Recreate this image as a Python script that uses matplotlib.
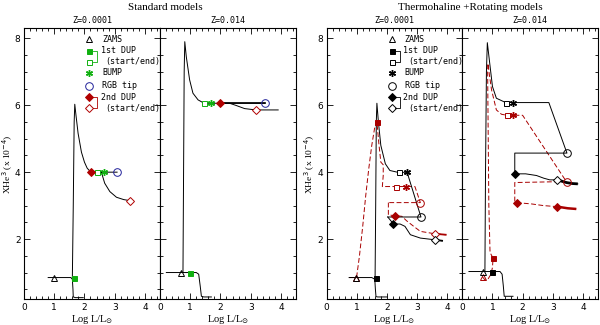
import matplotlib
matplotlib.use('Agg')
import matplotlib.pyplot as plt
from matplotlib.ticker import MultipleLocator

# ---------------- data ----------------
# Standard models, Z=0.0001
s1_pms_x = [0.8, 1.0, 1.55, 1.6, 1.62, 1.63, 1.7, 1.96]
s1_pms_y = [0.85, 0.85, 0.85, 0.8, 0.5, 0.27, 0.25, 0.25]
s1_rgb_x = [1.6, 1.63, 1.66, 1.68, 1.72, 1.79, 1.9, 2.0, 2.09, 2.18, 2.4, 2.64, 3.08]
s1_rgb_y = [0.85, 3.0, 5.5, 6.03, 5.7, 5.16, 4.6, 4.3, 4.12, 4.03, 4.0, 4.0, 4.0]
s1_agb_x = [2.21, 2.4, 2.56, 2.67, 2.84, 3.06, 3.3, 3.5]
s1_agb_y = [4.0, 4.0, 4.0, 3.67, 3.42, 3.25, 3.18, 3.15]
s1_zams = (1.0, 0.85)
s1_dup1 = [(1.65, 0.84), (2.4, 4.0)]
s1_bump = (2.64, 4.0)
s1_tip = (3.08, 4.0)
s1_dup2 = [(2.21, 4.0), (3.5, 3.15)]

# Standard models, Z=0.014
s2_pms_x = [0.21, 0.68, 1.0, 1.2, 1.28, 1.33, 1.37, 1.45, 1.7]
s2_pms_y = [1.0, 1.0, 1.0, 1.0, 0.95, 0.6, 0.29, 0.27, 0.27]
s2_rgb_x = [0.76, 0.78, 0.8, 0.82, 0.87, 0.98, 1.09, 1.26, 1.46, 1.7, 2.0, 3.47]
s2_rgb_y = [1.0, 4.0, 7.0, 7.9, 7.45, 6.76, 6.36, 6.16, 6.06, 6.06, 6.06, 6.06]
s2_agb_x = [2.0, 2.3, 2.5, 2.8, 3.17, 3.5, 3.91]
s2_agb_y = [6.06, 6.06, 6.0, 5.9, 5.86, 5.86, 5.86]
s2_zams = (0.68, 1.0)
s2_dup1 = [(1.0, 1.0), (1.46, 6.06)]
s2_bump = (1.7, 6.06)
s2_tip = (3.47, 6.06)
s2_dup2 = [(2.0, 6.06), (3.17, 5.86)]

# Thermohaline + rotating, Z=0.0001 : black and red (dashed) tracks
r1k_pms_x = [0.75, 0.97, 1.5, 1.6, 1.62, 1.64, 1.7, 2.02]
r1k_pms_y = [0.85, 0.85, 0.85, 0.8, 0.5, 0.28, 0.27, 0.27]
r1k_rgb_x = [1.61, 1.63, 1.65, 1.67, 1.72, 1.8, 1.95, 2.1, 2.39, 2.67, 3.13, 2.03]
r1k_rgb_y = [0.85, 3.0, 5.5, 6.06, 5.5, 4.8, 4.25, 4.05, 3.99, 4.0, 2.66, 2.66]
r1k_agb_x = [2.03, 2.22, 2.44, 2.6, 2.78, 3.11, 3.58, 3.83]
r1k_agb_y = [2.66, 2.45, 2.45, 2.38, 2.13, 2.03, 1.98, 1.95]
r1k_zams = (0.97, 0.85)
r1k_dup1 = [(1.64, 0.84), (2.39, 3.99)]
r1k_bump = (2.67, 4.0)
r1k_tip = (3.13, 2.66)
r1k_dup2 = [(2.22, 2.45), (3.58, 1.98)]

r1r_x = [0.75, 0.97, 1.0, 1.09, 1.2, 1.3, 1.4, 1.5, 1.6, 1.67, 1.73, 1.8, 1.88, 1.88,
         1.85, 2.31, 2.63, 2.93, 3.11, 2.05]
r1r_y = [0.85, 0.85, 0.88, 1.48, 2.38, 3.3, 4.1, 4.8, 5.35, 5.51, 4.9, 4.3, 4.22, 3.9,
         3.57, 3.57, 3.57, 3.57, 3.09, 3.09]
r1r_agb_x = [2.05, 2.05, 2.28, 2.5, 2.65, 2.89, 3.11, 3.58, 3.95]
r1r_agb_y = [3.09, 2.72, 2.70, 2.68, 2.55, 2.38, 2.23, 2.16, 2.13]
r1r_zams = (0.97, 0.84)
r1r_dup1 = [(1.67, 5.51), (2.31, 3.57)]
r1r_bump = (2.63, 3.57)
r1r_tip = (3.11, 3.09)
r1r_dup2 = [(2.28, 2.70), (3.58, 2.16)]

# Thermohaline + rotating, Z=0.014
r2k_pms_x = [0.22, 0.69, 1.0, 1.25, 1.32, 1.36, 1.39, 1.5, 1.68]
r2k_pms_y = [1.03, 1.03, 1.03, 1.03, 0.95, 0.6, 0.29, 0.29, 0.29]
r2k_rgb_x = [0.75, 0.77, 0.8, 0.83, 0.91, 1.0, 1.13, 1.44, 1.68, 2.87, 3.47, 1.74, 1.74]
r2k_rgb_y = [1.03, 4.0, 7.0, 7.87, 7.25, 6.56, 6.21, 6.08, 6.08, 6.08, 4.57, 4.57, 3.95]
r2k_agb_x = [1.74, 2.1, 2.46, 2.7, 2.9, 3.15, 3.45, 3.65, 3.83]
r2k_agb_y = [3.95, 3.95, 3.9, 3.82, 3.77, 3.77, 3.69, 3.66, 3.65]
r2k_zams = (0.69, 1.03)
r2k_dup1 = [(1.0, 1.03), (1.44, 6.08)]
r2k_bump = (1.68, 6.08)
r2k_tip = (3.47, 4.57)
r2k_dup2 = [(1.74, 3.95), (3.15, 3.77)]

r2r_x = [0.67, 0.75, 0.85, 0.95, 1.0, 1.02, 0.92, 0.88, 0.86, 0.84, 0.85, 0.9, 0.97,
         1.13, 1.3, 1.49, 1.68, 2.0, 3.45, 1.74, 1.74]
r2r_y = [0.87, 0.78, 0.8, 0.95, 1.15, 1.43, 1.6, 3.0, 5.0, 7.0, 7.25, 6.9, 6.46,
         5.86, 5.73, 5.7, 5.7, 5.7, 3.72, 3.69, 3.09]
r2r_agb_x = [1.8, 2.3, 2.7, 3.14, 3.5, 3.78]
r2r_agb_y = [3.09, 3.05, 3.0, 2.97, 2.92, 2.9]
r2r_zams = (0.67, 0.87)
r2r_dup1 = [(1.02, 1.43), (1.49, 5.7)]
r2r_bump = (1.68, 5.7)
r2r_tip = (3.48, 3.70)
r2r_dup2 = [(1.8, 3.09), (3.14, 2.97)]

legend_labels = ["ZAMS", "1st DUP", "(start/end)", "BUMP", "RGB tip", "2nd DUP", "(start/end)"]
x_ticks = [0, 1, 2, 3, 4]
y_ticks = [2, 4, 6, 8]

# ---------------- style ----------------
GREEN = '#10b010'
BLUE = '#22229a'
RED = '#a80000'
DARKRED = '#b00000'
K = 'black'
MONO = 'DejaVu Sans Mono'
SERIF = 'Liberation Serif'
LW = 0.7
DASH = (0, (5, 2.5))

fig = plt.figure(figsize=(6, 3.25), dpi=100)
H = 271 / 325
B = 25.7 / 325
ax1 = fig.add_axes([24 / 600, B, 136 / 600, H])
ax2 = fig.add_axes([160 / 600, B, 136 / 600, H])
ax3 = fig.add_axes([326.5 / 600, B, 135.8 / 600, H])
ax4 = fig.add_axes([462.3 / 600, B, 135.7 / 600, H])


def style(ax, ylab):
    ax.set_xlim(0, 4.5)
    ax.set_ylim(0.2, 8.3)
    ax.set_xticks(x_ticks)
    ax.set_yticks(y_ticks)
    ax.xaxis.set_minor_locator(MultipleLocator(0.2))
    ax.yaxis.set_minor_locator(MultipleLocator(0.5))
    ax.tick_params(which='both', direction='in', top=True, right=True,
                   labelsize=6.5, width=0.6, pad=2.5)
    ax.tick_params(which='major', length=4)
    ax.tick_params(which='minor', length=2)
    for s in ax.spines.values():
        s.set_linewidth(0.8)
    ax.set_xlabel(r'Log L/L$_{\odot}$', fontsize=7.5, family=SERIF, labelpad=1)
    if ylab:
        ax.set_ylabel(r'XHe$^3$ (x 10$^{-4}$)', fontsize=6.8, family=SERIF)
        ax.yaxis.set_label_coords(-0.068, 0.5)
    else:
        ax.set_yticklabels([])


def marks(ax, zams, dup1, bump, tip, dup2, ckz, c1, cb, ct, c2):
    ax.plot(*zams, marker='^', ms=4.5, mfc='none', mec=ckz, mew=0.7, zorder=5)
    ax.plot(*dup1[0], marker='s', ms=3.6, mfc=c1, mec=c1, mew=0.7, zorder=5)
    ax.plot(*dup1[1], marker='s', ms=3.6, mfc='white', mec=c1, mew=0.7, zorder=5)
    ax.plot(*bump, marker=(6, 2, 0), ms=5, mec=cb, mew=1.0, zorder=5)
    ax.plot(*bump, marker='o', ms=2.5, mfc=cb, mec=cb, mew=0, zorder=5)
    ax.plot(*tip, marker='o', ms=5.5, mfc='none', mec=ct, mew=0.7, zorder=5)
    ax.plot(*dup2[0], marker='D', ms=3.8, mfc=c2, mec=c2, mew=0.7, zorder=5)


def legend(ax, ckz, c1, cb, ct, c2):
    tr = ax.transAxes
    mx, tx = 0.48, 0.575
    rows = [0.959, 0.917, 0.877, 0.836, 0.788, 0.746, 0.705]
    kw = dict(transform=tr, clip_on=False, zorder=6)
    ax.plot(mx, rows[0], marker='^', ms=4.5, mfc='none', mec=ckz, mew=0.7, **kw)
    ax.plot(mx, rows[1], marker='s', ms=3.6, mfc=c1, mec=c1, mew=0.7, **kw)
    ax.plot(mx, rows[2], marker='s', ms=3.6, mfc='none', mec=c1, mew=0.7, **kw)
    ax.plot(mx, rows[3], marker=(6, 2, 0), ms=5, mec=cb, mew=1.0, **kw)
    ax.plot(mx, rows[3], marker='o', ms=2.5, mfc=cb, mec=cb, mew=0, **kw)
    ax.plot(mx, rows[4], marker='o', ms=5.5, mfc='none', mec=ct, mew=0.7, **kw)
    ax.plot(mx, rows[5], marker='D', ms=3.8, mfc=c2, mec=c2, mew=0.7, **kw)
    ax.plot(mx, rows[6], marker='D', ms=3.8, mfc='none', mec=c2, mew=0.7, **kw)
    for (r0, r1, c) in [(rows[1], rows[2], c1), (rows[5], rows[6], c2)]:
        ax.plot([mx + 0.028, mx + 0.058, mx + 0.058, mx + 0.028], [r0, r0, r1, r1],
                color=c, lw=0.6, transform=tr, clip_on=False)
    tk = dict(transform=tr, fontsize=6, family=MONO, va='center', ha='left')
    ax.text(tx, rows[0], legend_labels[0], **tk)
    ax.text(tx - 0.01, rows[1], legend_labels[1], **tk)
    ax.text(tx + 0.025, rows[2], legend_labels[2], **tk)
    ax.text(tx, rows[3], legend_labels[3], **tk)
    ax.text(tx, rows[4], legend_labels[4], **tk)
    ax.text(tx - 0.01, rows[5], legend_labels[5], **tk)
    ax.text(tx + 0.025, rows[6], legend_labels[6], **tk)


def dup2_end(ax, p, c, filled=False):
    ax.plot(*p, marker='D', ms=3.8, mfc=c if filled else 'white', mec=c, mew=0.7, zorder=5)


# Panel 1
ax = ax1
ax.plot(s1_pms_x, s1_pms_y, color=K, lw=LW)
ax.plot(s1_rgb_x, s1_rgb_y, color=K, lw=LW)
ax.plot(s1_agb_x, s1_agb_y, color=K, lw=LW)
ax.plot(s1_agb_x[:3], s1_agb_y[:3], color=K, lw=1.6)
marks(ax, s1_zams, s1_dup1, s1_bump, s1_tip, s1_dup2, K, GREEN, GREEN, BLUE, DARKRED)
dup2_end(ax, s1_dup2[1], DARKRED)
legend(ax, K, GREEN, GREEN, BLUE, DARKRED)
ax.set_title('Z=0.0001', fontsize=6, family=MONO, pad=4)
style(ax, True)

# Panel 2
ax = ax2
ax.plot(s2_pms_x, s2_pms_y, color=K, lw=LW)
ax.plot(s2_rgb_x, s2_rgb_y, color=K, lw=LW)
ax.plot(s2_agb_x, s2_agb_y, color=K, lw=LW)
ax.plot(s2_rgb_x[-2:], s2_rgb_y[-2:], color=K, lw=1.2)
marks(ax, s2_zams, s2_dup1, s2_bump, s2_tip, s2_dup2, K, GREEN, GREEN, BLUE, DARKRED)
dup2_end(ax, s2_dup2[1], DARKRED)
ax.set_title('Z=0.014', fontsize=6, family=MONO, pad=4)
style(ax, False)

# Panel 3
ax = ax3
ax.plot(r1r_x, r1r_y, color=RED, lw=LW, ls=DASH)
ax.plot(r1r_agb_x, r1r_agb_y, color=RED, lw=LW, ls=DASH)
ax.plot(r1r_agb_x[-2:], r1r_agb_y[-2:], color=RED, lw=1.3)
ax.plot(r1k_pms_x, r1k_pms_y, color=K, lw=LW)
ax.plot(r1k_rgb_x, r1k_rgb_y, color=K, lw=LW)
ax.plot(r1k_agb_x, r1k_agb_y, color=K, lw=LW)
ax.plot(r1k_agb_x[-2:], r1k_agb_y[-2:], color=K, lw=1.3)
marks(ax, r1r_zams, r1r_dup1, r1r_bump, r1r_tip, r1r_dup2, RED, RED, RED, RED, RED)
dup2_end(ax, r1r_dup2[1], RED)
marks(ax, r1k_zams, r1k_dup1, r1k_bump, r1k_tip, r1k_dup2, K, K, K, K, K)
dup2_end(ax, r1k_dup2[1], K)
legend(ax, K, K, K, K, K)
ax.set_title('Z=0.0001', fontsize=6, family=MONO, pad=4)
style(ax, True)

# Panel 4
ax = ax4
ax.plot(r2r_x, r2r_y, color=RED, lw=LW, ls=DASH)
ax.plot(r2r_agb_x, r2r_agb_y, color=RED, lw=LW, ls=DASH)
ax.plot(r2r_agb_x[-3:], r2r_agb_y[-3:], color=RED, lw=1.8, solid_capstyle='butt')
ax.plot(r2k_pms_x, r2k_pms_y, color=K, lw=LW)
ax.plot(r2k_rgb_x, r2k_rgb_y, color=K, lw=LW)
ax.plot(r2k_agb_x, r2k_agb_y, color=K, lw=LW)
ax.plot(r2k_agb_x[-4:], r2k_agb_y[-4:], color=K, lw=2.0, solid_capstyle='butt')
marks(ax, r2r_zams, r2r_dup1, r2r_bump, r2r_tip, r2r_dup2, RED, RED, RED, RED, RED)
dup2_end(ax, r2r_dup2[1], RED, filled=True)
marks(ax, r2k_zams, r2k_dup1, r2k_bump, r2k_tip, r2k_dup2, K, K, K, K, K)
dup2_end(ax, r2k_dup2[1], K)
ax.set_title('Z=0.014', fontsize=6, family=MONO, pad=4)
style(ax, False)

fig.text(165 / 600, 1 - 7.5 / 325, 'Standard models', ha='center', va='center',
         fontsize=8, family=SERIF)
fig.text(470 / 600, 1 - 7.5 / 325, 'Thermohaline +Rotating models', ha='center',
         va='center', fontsize=8, family=SERIF)

fig.savefig('out.png', dpi=100)
